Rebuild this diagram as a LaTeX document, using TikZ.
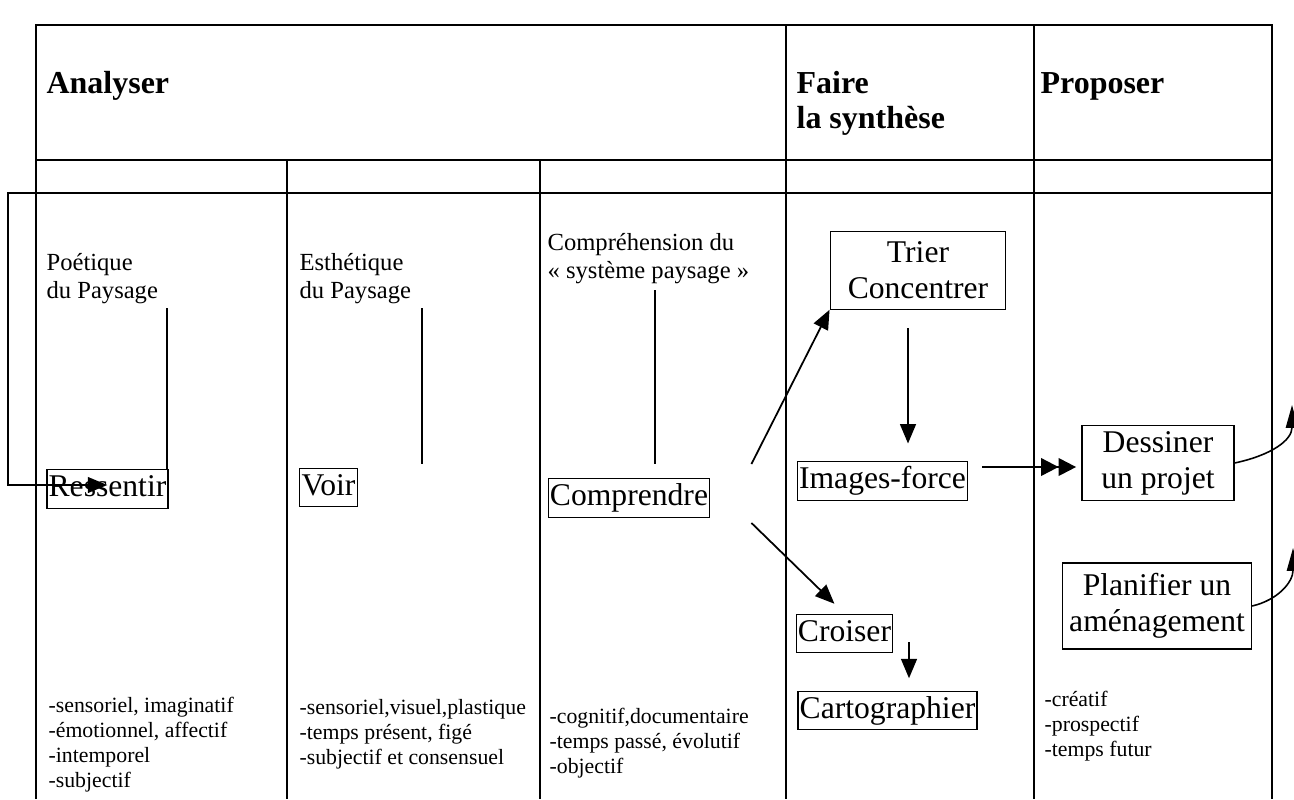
\documentclass[tikz,border=0pt]{standalone}
\usepackage{fontspec}
\setmainfont{Liberation Serif}
\usetikzlibrary{arrows.meta,calc}
\newcommand{\hdfont}{\fontsize{18.2}{19.5}\selectfont\bfseries}
\newcommand{\bxfont}{\fontsize{18}{20.5}\selectfont}
\newcommand{\cellfont}{\fontsize{14}{16}\selectfont}
\newcommand{\featfont}{\fontsize{12.4}{14.2}\selectfont}
\tikzset{
  head/.style={font=\hdfont, align=left, inner sep=0pt},
  desc/.style={font=\cellfont, align=left, inner sep=0pt, anchor=north west},
  feat/.style={font=\featfont, align=left, inner sep=0pt, anchor=north west},
  box/.style={draw, font=\bxfont, inner xsep=1pt, inner ysep=2.5pt, text height=13pt, text depth=4pt},
  bigbox/.style={draw, font=\bxfont, align=center, inner sep=0pt},
  arr/.style={-{Triangle[length=11pt,width=9pt]}, line width=1pt},
  darr/.style={-{Triangle[length=10pt,width=10pt]Triangle[length=10pt,width=10pt]}, line width=1.2pt},
  uparr/.style={-{Triangle[length=13pt,width=7pt]}, line width=0.9pt}
}
\begin{document}
\begin{tikzpicture}[x=0.02cm, y=-0.02cm, line width=0.7pt]
  \useasboundingbox (0,0) rectangle (1294,799);
  % Table
  \draw (36,799) -- (36,25) -- (1272,25) -- (1272,799);
  \draw (36,160) -- (1272,160);
  \foreach \x in {287,540}
    \draw (\x,160) -- (\x,799);
  \foreach \x in {786,1034}
    \draw (\x,25) -- (\x,799);
  % Headings
  \node[head, anchor=base west] (analyser) at (46,93) {Analyser};
  \node[head, anchor=north west] (faire) at (796,71) {Faire\\la synthèse};
  \node[head, anchor=base west] (proposer) at (1040,93) {Proposer};
  % Column 1
  \node[desc] (poetique) at (46,253) {Poétique\\du Paysage};
  \node[box] (ressentir) at (107.5,489) {Ressentir};
  \node[feat] (feat1) at (48,697) {-sensoriel, imaginatif\\-émotionnel, affectif\\-intemporel\\-subjectif};
  % Column 2
  \node[desc] (esthetique) at (299,253) {Esthétique\\du Paysage};
  \node[box] (voir) at (328.5,487.5) {Voir};
  \node[feat] (feat2) at (299,699) {-sensoriel,visuel,plastique\\-temps présent, figé\\-subjectif et consensuel};
  % Column 3
  \node[desc] (comprehension) at (547,233) {Compréhension du\\« système paysage »};
  \node[box] (comprendre) at (629,498) {Comprendre};
  \node[feat] (feat3) at (549,708) {-cognitif,documentaire\\-temps passé, évolutif\\-objectif};
  % Column 4
  \node[bigbox, minimum width=100pt, minimum height=44pt] (trier) at (918,270.5) {Trier\\Concentrer};
  \node[box] (imagesforce) at (882.5,481) {Images-force};
  \node[box] (croiser) at (844.5,633.5) {Croiser};
  \node[box] (cartographier) at (887.5,710.5) {Cartographier};
  % Column 5
  \node[bigbox, minimum width=86.5pt, minimum height=42.7pt] (dessiner) at (1158,463) {Dessiner\\un projet};
  \node[bigbox, minimum width=107.5pt, minimum height=49pt] (planifier) at (1157,606) {Planifier un\\aménagement};
  \node[feat] (feat5) at (1044,691) {-créatif\\-prospectif\\-temps futur};
  % Links
  \coordinate (p1) at (167,308);
  \coordinate (e1) at (422,308);
  \coordinate (s1) at (655,290);
  \draw[line width=0.9pt] (p1) -- (p1 |- ressentir.north);
  \draw[line width=0.9pt, shorten >=2pt] (e1) -- (e1 |- voir.north);
  \draw[line width=0.9pt, shorten >=8pt] (s1) -- (s1 |- comprendre.north);
  \coordinate (c2t) at ($(comprendre.north east)+(41,-14)$);
  \coordinate (c2c) at ($(comprendre.south east)+(41,5)$);
  \draw[arr] (c2t) -- (trier.south west);
  \draw[arr, shorten >=8pt] (c2c) -- (croiser.north);
  \coordinate (t1) at (908,328);
  \draw[arr, shorten >=10pt] (t1) -- (t1 |- imagesforce.north);
  \coordinate (i1) at (982,467);
  \draw[darr, shorten >=3pt] (i1) -- (i1 -| dessiner.west);
  \coordinate (k1) at (909,642);
  \draw[arr, shorten >=7pt] (k1) -- (k1 |- cartographier.north);
  % Loop back
  \coordinate (looptop) at (1272,193);
  \coordinate (loopcorner) at (8,193);
  \coordinate (loopin) at ($(ressentir.west)+(61,-4)$);
  \draw[arr, line width=0.7pt] (looptop) -- (loopcorner) -- (loopcorner |- loopin) -- (loopin);
  \coordinate (dtip) at (1292,405);
  \coordinate (ptip) at (1293,548);
  \draw[uparr] (dessiner.east) .. controls (1272,455) and (1292,440) .. (dtip);
  \draw[uparr] (planifier.east) .. controls (1278,600) and (1293,582) .. (ptip);
\end{tikzpicture}
\end{document}
